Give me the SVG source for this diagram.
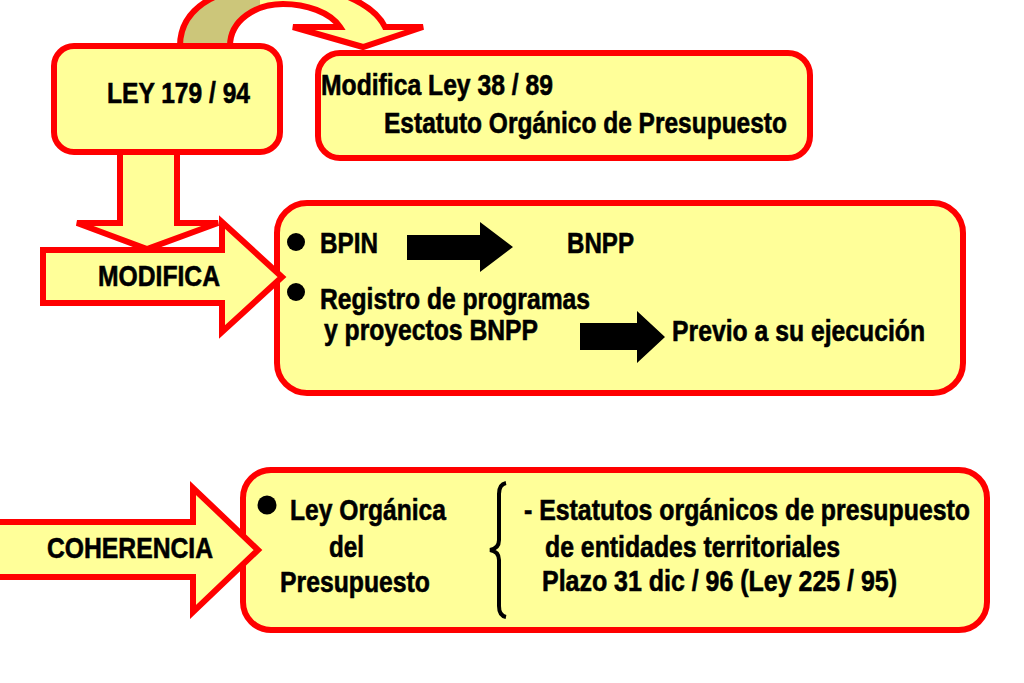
<svg xmlns="http://www.w3.org/2000/svg" width="1024" height="683" viewBox="0 0 1024 683">
<style>
.box{fill:#FFFF99;stroke:#FF0000;stroke-width:6}
.arr{fill:#FFFF99;stroke:#FF0000;stroke-width:6;stroke-linejoin:miter}
.blk{fill:#000000}
text{font-family:"Liberation Sans Narrow","Arial Narrow","Liberation Sans",Arial,sans-serif;font-weight:bold;font-size:30px;fill:#000000;stroke:#000000;stroke-width:0.6}
</style>
<defs>
<linearGradient id="rib" gradientUnits="userSpaceOnUse" x1="180" y1="0" x2="423" y2="0">
<stop offset="0" stop-color="#CCC67A"/>
<stop offset="0.33" stop-color="#CCC67A"/>
<stop offset="0.33" stop-color="#FFFF99"/>
<stop offset="1" stop-color="#FFFF99"/>
</linearGradient>
</defs>
<rect width="1024" height="683" fill="#FFFFFF"/>
<g id="connectors">
<path id="curved-arrow" d="M180,46 C180,4 226,-16 282,-16 C332,-16 374,4 385,27 L423,27 L363,47 L293,27 L340,27 C330,12 306,4 283,4 C256,4 230,20 230,46 Z" fill="url(#rib)" stroke="#FF0000" stroke-width="6" stroke-linejoin="miter"/>
<polygon id="down-arrow" class="arr" points="120,150 177,150 177,223 218,223 147,249 77,223 120,223"/>
</g>
<g id="ley179">
<rect class="box" x="54" y="46" width="226" height="106" rx="20"/>
<text x="107" y="103" textLength="143" lengthAdjust="spacingAndGlyphs">LEY 179 / 94</text>
</g>
<g id="modifica-ley">
<rect class="box" x="318" y="53" width="492" height="105" rx="22"/>
<text x="321" y="95" textLength="232" lengthAdjust="spacingAndGlyphs">Modifica Ley 38 / 89</text>
<text x="384" y="133" textLength="403" lengthAdjust="spacingAndGlyphs">Estatuto Orgánico de Presupuesto</text>
</g>
<g id="bpin-box">
<rect class="box" x="277" y="203" width="686" height="190" rx="30"/>
<circle class="blk" cx="296" cy="242" r="9"/>
<text x="320" y="253" textLength="58" lengthAdjust="spacingAndGlyphs">BPIN</text>
<polygon class="blk" points="407,235 480,235 480,222 513,247 480,272 480,260 407,260"/>
<text x="567" y="253" textLength="67" lengthAdjust="spacingAndGlyphs">BNPP</text>
<circle class="blk" cx="296" cy="292" r="9"/>
<text x="320" y="309" textLength="270" lengthAdjust="spacingAndGlyphs">Registro de programas</text>
<text x="324" y="340" textLength="214" lengthAdjust="spacingAndGlyphs">y proyectos BNPP</text>
<polygon class="blk" points="580,323 637,323 637,311 665,337 637,363 637,350 580,350"/>
<text x="672" y="341" textLength="253" lengthAdjust="spacingAndGlyphs">Previo a su ejecución</text>
</g>
<g id="modifica">
<polygon class="arr" points="43,250 222,250 222,222 282,277 222,332 222,303 43,303"/>
<text x="98" y="286" textLength="122" lengthAdjust="spacingAndGlyphs">MODIFICA</text>
</g>
<g id="ley-organica-box">
<rect class="box" x="243" y="470" width="744" height="160" rx="28"/>
<circle class="blk" cx="267" cy="505" r="9.5"/>
<text x="290" y="520" textLength="156" lengthAdjust="spacingAndGlyphs">Ley Orgánica</text>
<text x="329" y="557" textLength="35" lengthAdjust="spacingAndGlyphs">del</text>
<text x="280" y="592" textLength="150" lengthAdjust="spacingAndGlyphs">Presupuesto</text>
<path d="M506,483 C501,484 499,488 499,494 L499,540 C499,546 496,549 490,550 C496,551 499,554 499,560 L499,606 C499,612 501,616 506,617" fill="none" stroke="#000000" stroke-width="4"/>
<text x="524" y="520" textLength="446" lengthAdjust="spacingAndGlyphs">- Estatutos orgánicos de presupuesto</text>
<text x="545" y="557" textLength="295" lengthAdjust="spacingAndGlyphs">de entidades territoriales</text>
<text x="542" y="591" textLength="355" lengthAdjust="spacingAndGlyphs">Plazo 31 dic / 96 (Ley 225 / 95)</text>
</g>
<g id="coherencia">
<polygon class="arr" points="-6,522 193,522 193,488 258,550 193,612 193,577 -6,577"/>
<text x="47" y="558" textLength="166" lengthAdjust="spacingAndGlyphs">COHERENCIA</text>
</g>
</svg>
